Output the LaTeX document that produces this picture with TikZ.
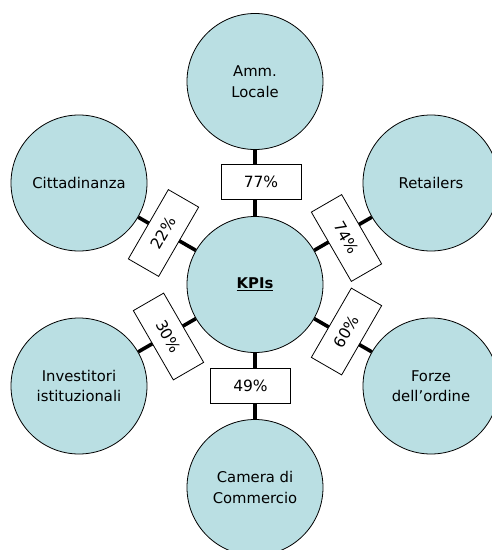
\documentclass[tikz,border=0pt]{standalone}
\usepackage{fontspec}
\setmainfont{DejaVu Sans}
\definecolor{bubble}{RGB}{186,223,227}
\begin{document}
\begin{tikzpicture}[x=1pt,y=-1pt,
  hub/.style={circle,draw=black,line width=0.8pt,fill=bubble,minimum size=136pt,
    inner sep=0pt,align=center,font=\fontsize{14.8}{20.5}\selectfont},
  spoke/.style={line width=3.6pt,black},
  pct/.style={rectangle,draw=black,line width=0.8pt,fill=white,minimum width=80pt,
    minimum height=35pt,inner sep=0pt,font=\fontsize{15.5}{18}\selectfont}]
\useasboundingbox (0,0) rectangle (492,550);
\clip (0,0) rectangle (492,550);
% central hub and the six stakeholder bubbles
\node[hub] (kpi) at (255,284.5) {\bfseries\underline{KPIs}};
\node[hub] (amm) at (255,81.5) {Amm.\\Locale};
\node[hub] (cit) at (79,183) {Cittadinanza};
\node[hub] (ret) at (431,183) {Retailers};
\node[hub] (inv) at (79,386) {Investitori\\istituzionali};
\node[hub] (frz) at (431,386) {Forze\\dell’ordine};
\node[hub] (cam) at (255,487.5) {Camera di\\Commercio};
% spokes
\draw[spoke] (kpi) -- (amm);
\draw[spoke] (kpi) -- (cit);
\draw[spoke] (kpi) -- (ret);
\draw[spoke] (kpi) -- (inv);
\draw[spoke] (kpi) -- (frz);
\draw[spoke] (kpi) -- (cam);
% percentage labels on the spokes
\node[pct] (pamm) at (261,181.5) {77\%};
\node[pct,rotate=60] (pcit) at (163.5,233) {22\%};
\node[pct,rotate=-60] (pret) at (346.5,238) {74\%};
\node[pct,rotate=-60] (pinv) at (168.5,336.5) {30\%};
\node[pct,rotate=60] (pfrz) at (346.5,331.5) {60\%};
\node[pct] (pcam) at (250.5,385.5) {49\%};
\end{tikzpicture}
\end{document}
